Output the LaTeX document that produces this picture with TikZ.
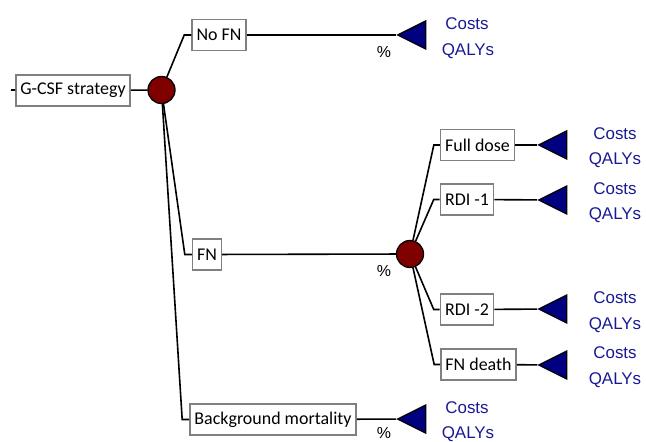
\documentclass[tikz,border=0pt]{standalone}
\usepackage{fontspec}
\setmainfont{Carlito}
\newfontfamily\arialfont{Liberation Sans}
\usetikzlibrary{shapes.geometric}
\definecolor{chancered}{RGB}{128,0,0}
\definecolor{termblue}{RGB}{0,0,128}
\definecolor{payoffblue}{RGB}{25,25,150}
\definecolor{boxgray}{RGB}{128,128,128}
\tikzstyle{branch}=[draw=boxgray, line width=1.6bp, fill=white, minimum height=31bp, inner xsep=4.5bp, font=\fontsize{18}{21}\selectfont]
\tikzstyle{chance}=[circle, draw=black, line width=1.3bp, fill=chancered, minimum size=27bp, inner sep=0pt]
\tikzstyle{terminal}=[isosceles triangle, isosceles triangle stretches, shape border rotate=180, draw=black, line width=1.3bp, fill=termblue, minimum width=28bp, minimum height=28bp, inner sep=0pt]
\tikzstyle{payoff}=[text=payoffblue, font=\arialfont\fontsize{17}{20}\selectfont, inner sep=0pt]
\tikzstyle{prob}=[font=\arialfont\fontsize{16}{19}\selectfont, inner sep=0pt]

\begin{document}
\begin{tikzpicture}[x=1bp, y=-1bp, line width=1.6bp]
    \useasboundingbox (0,0) rectangle (646,442);
% Decision
    \coordinate (stub) at (11,90);
    \node[branch] (strategy) at (73,90.5) {G-CSF strategy};
    \node[chance] (c1) at (161.5,90) {};
% First chance branches
    \node[branch] (nofn) at (219,35) {No FN};
    \node[branch] (fn) at (207,254.5) {FN};
    \node[branch] (bgmort) at (273,419.5) {Background mortality};
% Second chance branches
    \node[chance] (c2) at (410,254) {};
    \node[branch] (fulldose) at (477.5,145) {Full dose};
    \node[branch] (rdione) at (467,199.5) {RDI -1};
    \node[branch] (rditwo) at (467,309.5) {RDI -2};
    \node[branch] (fndeath) at (478.5,364.5) {FN death};
% Terminals
    \node[terminal, anchor=apex] (t1) at (396,35) {};
    \node[terminal, anchor=apex] (t2) at (537,145) {};
    \node[terminal, anchor=apex] (t3) at (537,200) {};
    \node[terminal, anchor=apex] (t4) at (537,309) {};
    \node[terminal, anchor=apex] (t5) at (537,365) {};
    \node[terminal, anchor=apex] (t6) at (396,419) {};
% Payoffs
    \node[payoff] (cost1) at (467,24) {Costs};
    \node[payoff] (qaly1) at (468,51) {QALYs};
    \node[payoff] (cost2) at (615,134) {Costs};
    \node[payoff] (qaly2) at (615,160) {QALYs};
    \node[payoff] (cost3) at (615,189) {Costs};
    \node[payoff] (qaly3) at (615,215) {QALYs};
    \node[payoff] (cost4) at (615,298) {Costs};
    \node[payoff] (qaly4) at (615,325) {QALYs};
    \node[payoff] (cost5) at (615,353) {Costs};
    \node[payoff] (qaly5) at (615,380) {QALYs};
    \node[payoff] (cost6) at (467,408) {Costs};
    \node[payoff] (qaly6) at (468,434) {QALYs};
% Probabilities
    \node[prob] (p1) at (384,52) {\%};
    \node[prob] (p2) at (384,271) {\%};
    \node[prob] (p3) at (384,433) {\%};
% Branch lines
    \draw (stub) -- (strategy);
    \draw (strategy) -- (c1);
    \draw (c1) -- ([xshift=-7bp]nofn.west) -- (nofn.west);
    \draw (c1) -- ([xshift=-7bp]fn.west) -- (fn.west);
    \draw (c1) -- ([xshift=-7bp]bgmort.west) -- (bgmort.west);
    \draw (nofn) -- (t1);
    \draw (fn) -- (c2);
    \draw (bgmort) -- (t6);
    \draw (c2) -- ([xshift=-6bp]fulldose.west) -- (fulldose.west);
    \draw (c2) -- ([xshift=-6bp]rdione.west) -- (rdione.west);
    \draw (c2) -- ([xshift=-6bp]rditwo.west) -- (rditwo.west);
    \draw (c2) -- ([xshift=-6bp]fndeath.west) -- (fndeath.west);
    \draw (fulldose) -- (t2);
    \draw (rdione) -- (t3);
    \draw (rditwo) -- (t4);
    \draw (fndeath) -- (t5);
\end{tikzpicture}
\end{document}
